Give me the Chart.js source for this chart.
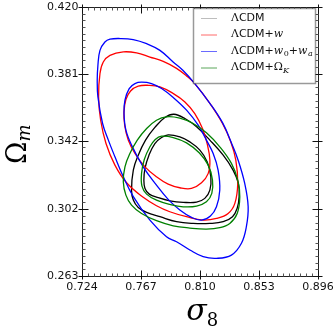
<!DOCTYPE html>
<html>
<head>
<meta charset="utf-8">
<script src="https://cdn.jsdelivr.net/npm/chart.js@4"></script>
<style>
  html, body { margin: 0; padding: 0; background: #fff; }
  canvas { display: block; }
</style>
</head>
<body>
<canvas id="chart" width="333" height="332"></canvas>
<script>
// axis ticks (sigma_8 and Omega_m)
const xTicks = [0.724, 0.767, 0.810, 0.853, 0.896];
const yTicks = [0.263, 0.302, 0.342, 0.381, 0.420];
const yTickLabels = ["0.263", "0.302", "0.342", "0.381", "0.420"];

// contours: [sigma8, Omega_m]
const lcdmOuter = [[0.7910,0.3574],[0.7990,0.3549],[0.8075,0.3501],[0.8172,0.3423],[0.8269,0.3335],[0.8341,0.3248],[0.8380,0.3170],[0.8385,0.3093],[0.8371,0.3025],[0.8337,0.2976],[0.8269,0.2947],[0.8172,0.2937],[0.8050,0.2937],[0.7929,0.2947],[0.7808,0.2976],[0.7711,0.3001],[0.7650,0.3030],[0.7614,0.3073],[0.7601,0.3131],[0.7614,0.3248],[0.7650,0.3335],[0.7703,0.3423],[0.7771,0.3497],[0.7844,0.3555]];
const lcdmInner = [[0.7868,0.3454],[0.7953,0.3442],[0.8026,0.3413],[0.8099,0.3365],[0.8152,0.3297],[0.8179,0.3209],[0.8172,0.3131],[0.8135,0.3083],[0.8075,0.3061],[0.7978,0.3060],[0.7880,0.3069],[0.7796,0.3087],[0.7730,0.3108],[0.7699,0.3141],[0.7691,0.3190],[0.7699,0.3258],[0.7728,0.3335],[0.7771,0.3403],[0.7820,0.3438]];
const wOuter = [[0.7541,0.3938],[0.7638,0.3932],[0.7735,0.3908],[0.7832,0.3883],[0.7929,0.3842],[0.8004,0.3796],[0.8062,0.3753],[0.8172,0.3637],[0.8264,0.3520],[0.8324,0.3413],[0.8361,0.3306],[0.8375,0.3170],[0.8354,0.3054],[0.8305,0.2995],[0.8220,0.2966],[0.8123,0.2956],[0.8002,0.2976],[0.7880,0.3005],[0.7783,0.3040],[0.7686,0.3089],[0.7565,0.3174],[0.7480,0.3277],[0.7415,0.3403],[0.7376,0.3539],[0.7361,0.3675],[0.7371,0.3812],[0.7395,0.3879],[0.7444,0.3918]];
const wInner = [[0.7723,0.3743],[0.7808,0.3734],[0.7905,0.3695],[0.7990,0.3646],[0.8062,0.3578],[0.8118,0.3491],[0.8152,0.3403],[0.8172,0.3306],[0.8160,0.3229],[0.8111,0.3174],[0.8038,0.3141],[0.7953,0.3145],[0.7868,0.3166],[0.7783,0.3209],[0.7699,0.3267],[0.7626,0.3345],[0.7577,0.3423],[0.7551,0.3510],[0.7546,0.3588],[0.7560,0.3660],[0.7594,0.3710],[0.7650,0.3738]];
const w0waOuter = [[0.7517,0.4016],[0.7613,0.4010],[0.7711,0.3986],[0.7808,0.3947],[0.7904,0.3879],[0.7975,0.3831],[0.8062,0.3753],[0.8172,0.3638],[0.8266,0.3522],[0.8330,0.3405],[0.8378,0.3306],[0.8426,0.3170],[0.8451,0.3034],[0.8438,0.2918],[0.8402,0.2821],[0.8329,0.2752],[0.8220,0.2733],[0.8123,0.2743],[0.8026,0.2782],[0.7929,0.2830],[0.7856,0.2859],[0.7735,0.2956],[0.7614,0.3093],[0.7541,0.3209],[0.7480,0.3326],[0.7432,0.3423],[0.7390,0.3520],[0.7356,0.3675],[0.7351,0.3772],[0.7356,0.3860],[0.7371,0.3947],[0.7407,0.3996],[0.7444,0.4012]];
const w0waInner = [[0.7674,0.3761],[0.7747,0.3753],[0.7820,0.3724],[0.7905,0.3672],[0.8002,0.3598],[0.8087,0.3510],[0.8147,0.3423],[0.8196,0.3345],[0.8232,0.3248],[0.8244,0.3131],[0.8220,0.3034],[0.8176,0.2980],[0.8111,0.2956],[0.8038,0.2972],[0.7953,0.3015],[0.7868,0.3077],[0.7783,0.3160],[0.7686,0.3267],[0.7601,0.3394],[0.7560,0.3481],[0.7546,0.3578],[0.7553,0.3656],[0.7584,0.3724],[0.7626,0.3753]];
const okOuter = [[0.7856,0.3559],[0.7953,0.3551],[0.8050,0.3520],[0.8147,0.3466],[0.8244,0.3384],[0.8329,0.3287],[0.8375,0.3190],[0.8390,0.3093],[0.8371,0.2995],[0.8317,0.2937],[0.8244,0.2912],[0.8147,0.2904],[0.8026,0.2910],[0.7905,0.2923],[0.7783,0.2953],[0.7674,0.2995],[0.7601,0.3044],[0.7560,0.3102],[0.7541,0.3180],[0.7553,0.3267],[0.7589,0.3345],[0.7643,0.3423],[0.7711,0.3491],[0.7783,0.3539]];
const okInner = [[0.7820,0.3446],[0.7905,0.3438],[0.8002,0.3407],[0.8094,0.3349],[0.8160,0.3277],[0.8191,0.3190],[0.8186,0.3112],[0.8147,0.3063],[0.8075,0.3038],[0.7978,0.3034],[0.7880,0.3048],[0.7783,0.3073],[0.7711,0.3108],[0.7677,0.3155],[0.7674,0.3229],[0.7694,0.3310],[0.7735,0.3384],[0.7774,0.3427]];

const models = [
  { name: "ΛCDM", color: "#000000", legendColor: "#bdbdbd", contours: [lcdmOuter, lcdmInner], order: 4 },
  { name: "ΛCDM+w", color: "#ff0000", legendColor: "#ff6a6a", contours: [wOuter, wInner], order: 3 },
  { name: "ΛCDM+w0+wa", color: "#0000ff", legendColor: "#6a6aff", contours: [w0waOuter, w0waInner], order: 2 },
  { name: "ΛCDM+ΩK", color: "#008000", legendColor: "#5aa65a", contours: [okOuter, okInner], order: 1 }
];

// legend labels with math bits
const legendParts = [
  [["Λ", "serif"], ["CDM", "sans"]],
  [["Λ", "serif"], ["CDM+", "sans"], ["w", "it"]],
  [["Λ", "serif"], ["CDM+", "sans"], ["w", "it"], ["0", "sub"], ["+", "sans"], ["w", "it"], ["a", "subit"]],
  [["Λ", "serif"], ["CDM+", "sans"], ["Ω", "serif"], ["K", "subit"]]
];

// closed loops: wrap one point on each side, hide the two wrap segments
const datasets = [];
models.forEach(m => {
  m.contours.forEach(c => {
    const n = c.length;
    const ring = [c[n - 1], ...c, c[0], c[1]];
    const last = ring.length - 1;
    datasets.push({
      label: m.name,
      data: ring.map(p => ({ x: p[0], y: p[1] })),
      borderColor: m.color,
      borderWidth: 1.3,
      pointRadius: 0,
      tension: 0.4,
      fill: false,
      order: m.order,
      segment: {
        borderColor: s => (s.p0DataIndex === 0 || s.p1DataIndex === last) ? "rgba(0,0,0,0)" : m.color
      }
    });
  });
});

const fonts = {
  sans: "11px 'DejaVu Sans'",
  serif: "11px 'DejaVu Serif'",
  it: "italic 11px 'DejaVu Serif'",
  sub: "8px 'DejaVu Serif'",
  subit: "italic 8px 'DejaVu Serif'"
};

const framePlugin = {
  id: "frame",
  afterDraw(chart) {
    const ctx = chart.ctx;
    const { left, right, top, bottom } = chart.chartArea;
    const xs = chart.scales.x, ys = chart.scales.y;
    const L = Math.round(left) + 0.5, R = Math.round(right) + 0.5;
    const T = Math.round(top) + 0.5, B = Math.round(bottom) + 0.5;
    ctx.save();
    ctx.strokeStyle = "#222";
    ctx.lineWidth = 1;
    ctx.strokeRect(L, T, R - L, B - T);

    const line = (x1, y1, x2, y2) => { ctx.beginPath(); ctx.moveTo(x1, y1); ctx.lineTo(x2, y2); ctx.stroke(); };

    // minor ticks
    ctx.strokeStyle = "#555";
    const nMinor = 10;
    for (let i = 0; i < xTicks.length - 1; i++) {
      for (let k = 1; k < nMinor; k++) {
        const v = xTicks[i] + (xTicks[i + 1] - xTicks[i]) * k / nMinor;
        const px = Math.round(xs.getPixelForValue(v)) + 0.5;
        line(px, B, px, B - 3);
        line(px, T, px, T + 3);
      }
    }
    for (let i = 0; i < yTicks.length - 1; i++) {
      for (let k = 1; k < nMinor; k++) {
        const v = yTicks[i] + (yTicks[i + 1] - yTicks[i]) * k / nMinor;
        const py = Math.round(ys.getPixelForValue(v)) + 0.5;
        line(L, py, L + 3, py);
        line(R, py, R - 3, py);
      }
    }
    // major ticks
    ctx.strokeStyle = "#111";
    xTicks.forEach(v => {
      const px = Math.round(xs.getPixelForValue(v)) + 0.5;
      line(px, B + 3, px, B - 6);
      line(px, T - 3, px, T + 6);
    });
    yTicks.forEach(v => {
      const py = Math.round(ys.getPixelForValue(v)) + 0.5;
      line(L - 4, py, L + 6, py);
      line(R + 4, py, R - 6, py);
    });

    // tick labels
    ctx.fillStyle = "#111";
    ctx.font = "11px 'DejaVu Sans'";
    ctx.textAlign = "center";
    ctx.textBaseline = "top";
    xTicks.forEach(v => ctx.fillText(v.toFixed(3), xs.getPixelForValue(v), B + 5));
    ctx.textAlign = "right";
    ctx.textBaseline = "middle";
    yTicks.forEach((v, i) => ctx.fillText(yTickLabels[i], L - 4, ys.getPixelForValue(v)));

    // axis titles
    ctx.fillStyle = "#000";
    ctx.textAlign = "left";
    ctx.textBaseline = "alphabetic";
    const xc = (L + R) / 2;
    ctx.font = "italic 30px 'DejaVu Serif'";
    const sw = ctx.measureText("σ").width;
    ctx.fillText("σ", xc - sw / 2 - 4, 320);
    ctx.font = "18px 'DejaVu Serif'";
    ctx.fillText("8", xc + sw / 2 - 4, 326);

    ctx.save();
    ctx.translate(26, (T + B) / 2 + 22);
    ctx.rotate(-Math.PI / 2);
    ctx.font = "27px 'DejaVu Serif'";
    ctx.fillText("Ω", 0, 0);
    const ow = ctx.measureText("Ω").width;
    ctx.font = "italic 18px 'DejaVu Serif'";
    ctx.fillText("m", ow, 4);
    ctx.restore();

    // legend
    const lx = 193.5, ly = 8.5, lw = 122, lh = 75;
    ctx.fillStyle = "#fff";
    ctx.fillRect(lx, ly, lw, lh);
    ctx.strokeStyle = "rgba(0,0,0,0.4)";
    ctx.lineWidth = 1.5;
    ctx.strokeRect(lx, ly, lw, lh);
    const rows = [18, 34.5, 51, 67.5];
    models.forEach((m, i) => {
      ctx.strokeStyle = m.legendColor;
      ctx.lineWidth = 1;
      line(201, rows[i] + 0.5, 217, rows[i] + 0.5);
      let x = 231;
      ctx.fillStyle = "#111";
      ctx.textBaseline = "middle";
      legendParts[i].forEach(([t, f]) => {
        ctx.font = fonts[f];
        const dy = (f === "sub" || f === "subit") ? 3 : 0;
        ctx.fillText(t, x, rows[i] + dy);
        x += ctx.measureText(t).width + (f === "it" ? 0.5 : 0);
      });
    });
    ctx.restore();
  }
};

new Chart(document.getElementById("chart").getContext("2d"), {
  type: "line",
  data: { datasets },
  options: {
    responsive: false,
    animation: false,
    devicePixelRatio: 1,
    layout: { padding: { left: 82, right: 15, top: 7, bottom: 56 } },
    plugins: { legend: { display: false }, tooltip: { enabled: false } },
    scales: {
      x: { type: "linear", min: 0.724, max: 0.896, display: false },
      y: { type: "linear", min: 0.263, max: 0.420, display: false }
    }
  },
  plugins: [framePlugin]
});
</script>
</body>
</html>
